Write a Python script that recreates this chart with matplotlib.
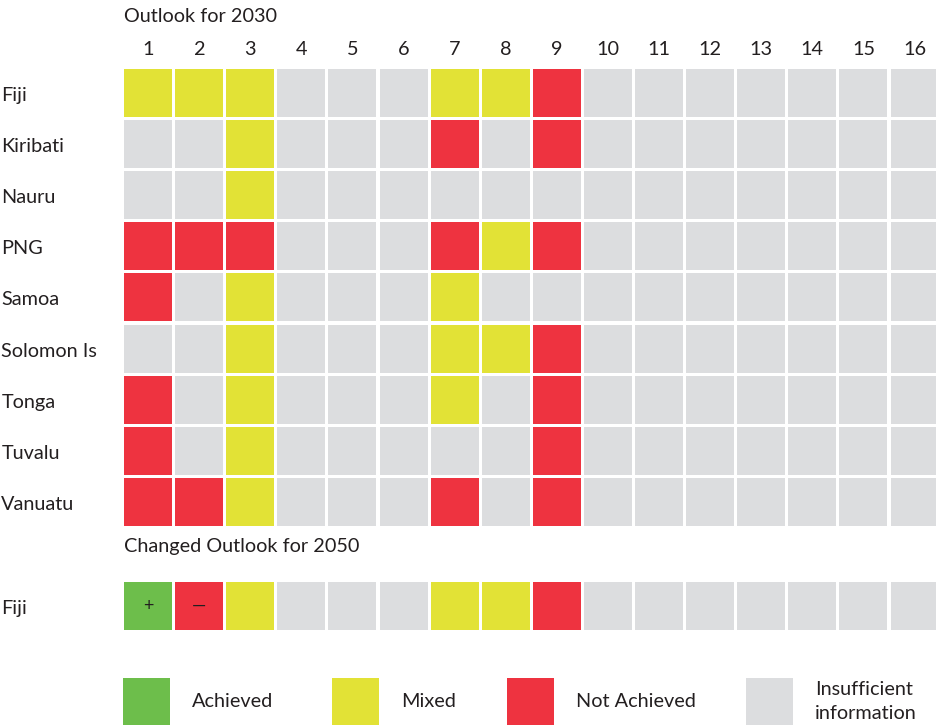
import numpy as np
import matplotlib
matplotlib.use("Agg")
import matplotlib.pyplot as plt
from matplotlib.patches import Rectangle

plt.rcParams['font.family'] = ['Lato', 'DejaVu Sans']

# status codes: A achieved, M mixed, N not achieved, I insufficient information
countries = ["Fiji", "Kiribati", "Nauru", "PNG", "Samoa", "Solomon Is",
             "Tonga", "Tuvalu", "Vanuatu"]
goals = [str(g) for g in range(1, 17)]

outlook_2030 = [
    "MMMIIIMMNIIIIIII",  # Fiji
    "IIMIIININIIIIIII",  # Kiribati
    "IIMIIIIIIIIIIIII",  # Nauru
    "NNNIIINMNIIIIIII",  # PNG
    "NIMIIIMIIIIIIIII",  # Samoa
    "IIMIIIMMNIIIIIII",  # Solomon Is
    "NIMIIIMINIIIIIII",  # Tonga
    "NIMIIIIINIIIIIII",  # Tuvalu
    "NNMIIININIIIIIII",  # Vanuatu
]
country_2050 = "Fiji"
outlook_2050 = "ANMIIIMMNIIIIIII"
change_marks = {0: "+", 1: "\u2014"}

colors = {"A": "#6dbe4b", "M": "#e2e236", "N": "#ee3340", "I": "#dcdddf"}
legend_labels = [("A", "Achieved"), ("M", "Mixed"), ("N", "Not Achieved"),
                 ("I", "Insufficient\ninformation")]

txt = "#231f20"
fs = 14.3
cell = 0.94

fig = plt.figure(figsize=(9.37, 7.27), dpi=100)
ax = fig.add_axes([0, 0, 1, 1])
pitch = 51.1
ax.set_xlim(-124 / pitch, (937 - 124) / pitch)
ax.set_ylim((727 - 69) / pitch, -69 / pitch)
ax.axis("off")

for r, row in enumerate(outlook_2030):
    for c, s in enumerate(row):
        ax.add_patch(Rectangle((c, r), cell, cell, color=colors[s], lw=0))
    ax.text(-2.4, r + cell / 2 + 0.05, countries[r], fontsize=fs, color=txt,
            ha="left", va="center")

for c, g in enumerate(goals):
    ax.text(c + cell / 2, -0.38, g, fontsize=fs, color=txt, ha="center", va="center")
ax.text(0, -1.03, "Outlook for 2030", fontsize=fs, color=txt, ha="left", va="center")

y50 = 10.04
ax.text(0, 9.35, "Changed Outlook for 2050", fontsize=fs, color=txt,
        ha="left", va="center")
for c, s in enumerate(outlook_2050):
    ax.add_patch(Rectangle((c, y50), cell, cell, color=colors[s], lw=0))
    if c in change_marks:
        ax.text(c + cell / 2, y50 + cell / 2, change_marks[c], fontsize=13,
                color=txt, ha="center", va="center")
ax.text(-2.4, y50 + cell / 2 + 0.05, country_2050, fontsize=fs, color=txt,
        ha="left", va="center")

leg_x = [-0.02, 4.07, 7.5, 12.17]
leg_y = 11.92
for (s, lab), x in zip(legend_labels, leg_x):
    ax.add_patch(Rectangle((x, leg_y), 0.92, 0.92, color=colors[s], lw=0))
    ax.text(x + 1.35, leg_y + 0.46, lab, fontsize=fs, color=txt,
            ha="left", va="center", linespacing=1.45)

fig.savefig("out.png", dpi=100)
